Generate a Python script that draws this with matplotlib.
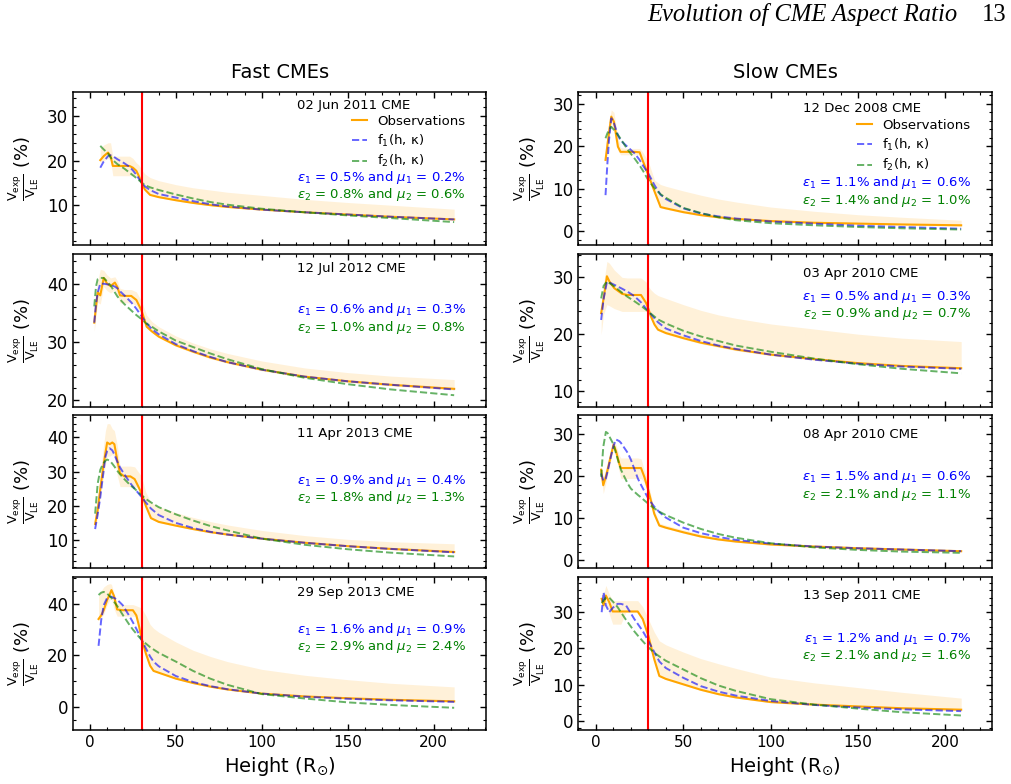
import matplotlib
matplotlib.use('Agg')
import matplotlib.pyplot as plt
from matplotlib.ticker import AutoMinorLocator, MultipleLocator

# ---- data (height in R_sun, ratio in %) ----
# Fast CMEs
h_jun11 = [6, 8, 10.5, 12, 13.3, 16, 20, 23, 25, 27, 28.5, 30, 32, 35, 40, 50, 60, 70, 80, 100, 125, 150, 175, 212]
obs_jun11 = [20.1, 21.0, 21.8, 21.0, 18.8, 18.8, 18.8, 18.8, 18.4, 17.7, 16.5, 15.0, 13.5, 12.3, 11.8, 11.1, 10.5, 10.0, 9.6, 9.0, 8.4, 7.9, 7.4, 6.8]
lo_jun11 = [19.5, 20.0, 20.5, 20.0, 16.6, 16.6, 16.6, 16.6, 16.6, 16.6, 16.2, 14.8, 13.3, 12.2, 11.7, 11.0, 10.4, 9.9, 9.5, 8.9, 8.3, 7.8, 7.3, 6.7]
hi_jun11 = [22.8, 23.5, 24.0, 24.0, 21.0, 21.0, 21.0, 21.0, 20.5, 19.5, 19.0, 18.0, 17.0, 16.2, 15.5, 14.6, 13.9, 13.4, 12.9, 12.2, 11.3, 10.6, 10.0, 9.1]
f1_jun11 = [18.4, 19.8, 21.0, 21.2, 21.0, 20.3, 19.4, 18.6, 17.8, 16.8, 15.9, 15.2, 14.2, 13.4, 12.5, 11.7, 10.9, 10.2, 9.7, 9.0, 8.4, 7.9, 7.4, 6.8]
f2_jun11 = [23.3, 22.5, 21.6, 20.7, 20.1, 19.2, 18.2, 17.3, 16.7, 16.1, 15.6, 15.1, 14.5, 14.0, 13.4, 12.4, 11.5, 10.7, 10.1, 9.2, 8.4, 7.7, 7.1, 6.2]

h_jul12 = [2.5, 3.5, 4.5, 6, 8, 10, 12, 14.5, 16, 17.5, 20, 24, 27, 30, 33, 36, 40, 50, 60, 70, 80, 100, 125, 150, 175, 212]
obs_jul12 = [33.3, 36.0, 38.5, 38.0, 41.0, 40.0, 39.6, 40.2, 39.4, 38.0, 37.9, 37.9, 37.2, 35.4, 32.6, 31.8, 30.9, 29.4, 28.3, 27.3, 26.5, 25.2, 24.0, 23.2, 22.6, 21.9]
lo_jul12 = [31.8, 34.5, 36.8, 36.5, 39.5, 38.8, 38.4, 39.0, 38.0, 36.7, 36.7, 36.7, 36.2, 34.6, 32.4, 31.6, 30.7, 29.2, 28.1, 27.1, 26.3, 25.0, 23.8, 23.0, 22.4, 21.7]
hi_jul12 = [34.5, 38.0, 40.5, 42.5, 42.3, 41.5, 41.0, 41.2, 40.5, 39.2, 39.0, 39.0, 38.6, 37.0, 34.6, 33.5, 32.6, 31.0, 29.8, 28.8, 28.0, 26.7, 25.5, 24.7, 24.1, 23.5]
f1_jul12 = [33.3, 36.5, 38.5, 40.0, 40.0, 39.9, 39.8, 39.5, 39.2, 38.7, 38.0, 36.8, 35.7, 34.4, 33.2, 32.2, 31.3, 29.6, 28.4, 27.4, 26.5, 25.2, 24.0, 23.2, 22.6, 21.8]
f2_jul12 = [36.1, 39.5, 40.8, 41.0, 41.0, 40.4, 39.7, 38.5, 37.8, 37.3, 36.5, 35.4, 34.6, 33.9, 33.1, 32.6, 31.8, 30.2, 29.1, 28.0, 27.0, 25.3, 23.8, 22.7, 21.8, 20.8]

h_apr13 = [3, 4.5, 6, 7.5, 9, 10, 11.5, 13, 14.2, 15.8, 17.5, 20, 23.5, 26, 28, 30, 32.5, 35.5, 40, 50, 60, 70, 80, 100, 125, 150, 175, 212]
obs_apr13 = [14.7, 18.8, 25.0, 30.5, 35.5, 38.5, 38.0, 38.5, 38.0, 33.5, 29.5, 28.6, 28.6, 27.8, 25.8, 23.6, 20.0, 16.4, 15.3, 14.2, 13.2, 12.3, 11.6, 10.4, 9.2, 8.2, 7.4, 6.5]
lo_apr13 = [13.5, 17.0, 22.5, 27.5, 32.0, 34.5, 34.5, 35.0, 34.5, 29.0, 25.6, 25.6, 25.6, 25.6, 25.4, 23.2, 19.8, 16.2, 15.1, 14.0, 13.0, 12.1, 11.4, 10.2, 9.0, 8.0, 7.2, 6.3]
hi_apr13 = [15.5, 21.0, 29.0, 36.0, 42.0, 44.0, 44.0, 42.5, 42.0, 38.0, 31.6, 31.6, 31.6, 31.4, 30.0, 28.6, 24.0, 21.0, 19.8, 18.0, 16.6, 15.4, 14.4, 12.8, 11.3, 10.2, 9.5, 8.9]
f1_apr13 = [13.2, 17.5, 22.5, 28.5, 34.3, 36.0, 36.8, 36.2, 35.0, 33.0, 31.2, 29.2, 26.6, 25.0, 23.8, 22.6, 21.0, 19.2, 17.3, 15.0, 13.5, 12.4, 11.6, 10.4, 9.2, 8.2, 7.4, 6.4]
f2_apr13 = [17.7, 26.5, 30.5, 32.2, 33.2, 33.5, 33.2, 32.3, 31.5, 30.3, 29.2, 27.8, 26.0, 25.0, 24.0, 23.1, 22.0, 21.0, 19.6, 17.5, 15.7, 14.1, 12.8, 10.4, 8.6, 7.3, 6.3, 5.2]

h_sep13 = [5, 6.5, 8, 10, 11.5, 12.5, 14, 15.8, 19, 23, 25, 27, 28.5, 30, 32.5, 35, 37, 40, 50, 60, 70, 80, 100, 125, 150, 175, 212]
obs_sep13 = [34.1, 35.5, 37.5, 41.5, 43.6, 45.3, 43.0, 37.8, 37.5, 37.5, 37.5, 35.5, 31.5, 26.7, 20.8, 16.0, 14.0, 13.3, 11.0, 9.3, 7.9, 6.8, 5.2, 4.1, 3.4, 2.8, 2.2]
lo_sep13 = [33.5, 34.5, 36.0, 39.5, 41.5, 42.0, 38.0, 35.2, 35.2, 35.2, 35.2, 35.0, 31.3, 26.5, 20.6, 15.8, 13.8, 13.1, 10.8, 9.1, 7.7, 6.6, 5.0, 3.9, 3.2, 2.6, 2.0]
hi_sep13 = [43.0, 45.0, 46.5, 47.5, 47.8, 47.6, 44.0, 40.4, 39.7, 39.7, 39.7, 39.2, 38.8, 38.4, 35.5, 32.0, 30.5, 29.0, 25.2, 22.0, 19.6, 17.6, 14.6, 12.3, 10.6, 9.2, 7.8]
f1_sep13 = [23.7, 33.5, 39.5, 42.3, 42.7, 42.7, 42.3, 41.6, 39.5, 35.2, 32.8, 30.3, 28.2, 26.1, 22.8, 19.6, 17.6, 15.8, 12.0, 9.7, 8.1, 6.9, 5.2, 4.0, 3.2, 2.6, 2.0]
f2_sep13 = [43.4, 44.3, 44.6, 43.9, 43.0, 42.3, 40.8, 39.2, 35.8, 31.8, 30.0, 28.4, 27.2, 26.1, 24.6, 23.2, 22.3, 21.0, 17.6, 14.0, 11.0, 8.6, 5.0, 3.3, 1.8, 0.8, -0.3]

# Slow CMEs
h_dec08 = [5.5, 6.5, 7.5, 8.8, 10.3, 12.6, 14.1, 18, 22, 25, 27, 30, 33.6, 37, 40, 50, 60, 70, 80, 100, 125, 150, 175, 209]
obs_dec08 = [16.8, 20.0, 23.2, 27.0, 25.8, 19.9, 18.7, 18.7, 18.7, 18.6, 16.4, 13.2, 9.3, 5.7, 5.4, 4.5, 3.8, 3.3, 2.9, 2.4, 2.0, 1.8, 1.6, 1.4]
lo_dec08 = [16.0, 19.0, 22.0, 25.5, 24.5, 19.0, 18.0, 18.0, 18.0, 18.0, 15.8, 12.8, 9.0, 5.5, 5.2, 4.3, 3.6, 3.1, 2.7, 2.2, 1.8, 1.6, 1.4, 1.2]
hi_dec08 = [20.0, 23.0, 26.0, 28.6, 28.0, 22.0, 19.7, 19.5, 19.5, 19.5, 18.5, 16.4, 12.0, 11.0, 10.6, 9.5, 8.5, 7.6, 6.9, 5.7, 4.7, 3.9, 3.3, 2.6]
f1_dec08 = [8.5, 15.5, 21.5, 26.6, 25.5, 22.6, 21.4, 19.9, 18.4, 16.8, 15.4, 13.6, 10.8, 8.6, 7.6, 5.4, 4.2, 3.5, 3.0, 2.3, 1.8, 1.3, 1.0, 0.6]
f2_dec08 = [21.9, 23.0, 23.9, 24.6, 23.9, 22.7, 21.8, 19.3, 17.2, 15.5, 14.2, 12.0, 10.1, 8.7, 7.9, 5.5, 4.3, 3.3, 2.6, 1.9, 1.4, 1.0, 0.7, 0.4]

h_apr03 = [3, 4.4, 6.3, 7.7, 10.5, 15, 18, 22, 25.8, 28.7, 30, 31.5, 33.5, 35.5, 40, 50, 60, 70, 80, 100, 125, 150, 175, 209]
obs_apr03 = [23.7, 26.3, 30.2, 29.3, 28.1, 27.1, 26.9, 26.9, 26.9, 25.5, 24.5, 23.1, 21.7, 20.8, 20.2, 19.3, 18.5, 17.9, 17.3, 16.4, 15.6, 14.9, 14.4, 14.0]
lo_apr03 = [19.9, 23.5, 25.2, 25.0, 24.5, 24.0, 24.0, 24.0, 24.0, 24.0, 24.0, 23.0, 21.5, 20.6, 20.0, 19.1, 18.3, 17.7, 17.1, 16.2, 15.4, 14.7, 14.2, 13.8]
hi_apr03 = [24.5, 29.0, 32.8, 32.5, 31.3, 30.0, 29.9, 29.9, 29.9, 29.2, 28.4, 27.8, 27.2, 26.8, 26.3, 25.2, 24.2, 23.4, 22.8, 21.8, 20.9, 20.0, 19.3, 18.7]
f1_apr03 = [22.5, 26.2, 29.2, 29.1, 28.7, 28.0, 27.5, 26.7, 25.6, 24.5, 24.1, 23.5, 22.8, 22.1, 21.0, 19.8, 18.8, 18.0, 17.4, 16.4, 15.5, 14.8, 14.3, 13.9]
f2_apr03 = [26.3, 28.5, 29.3, 29.0, 28.4, 27.3, 26.6, 25.8, 25.0, 24.3, 24.0, 23.6, 23.1, 22.6, 21.9, 20.6, 19.6, 18.8, 18.0, 16.9, 15.7, 14.7, 13.9, 13.1]

h_apr08 = [3, 4.2, 5.7, 6.7, 8.6, 10.1, 11.5, 13.4, 14.3, 18.2, 20, 24, 25.8, 27.7, 30, 33.4, 36.3, 40, 50, 60, 70, 80, 100, 125, 150, 175, 209]
obs_apr08 = [21.6, 17.9, 20.0, 21.6, 25.0, 27.6, 26.0, 23.0, 22.0, 22.0, 22.0, 22.0, 22.0, 19.9, 16.7, 11.1, 8.3, 7.8, 6.7, 5.7, 5.0, 4.5, 3.8, 3.3, 2.9, 2.6, 2.2]
lo_apr08 = [20.5, 15.9, 18.5, 20.5, 24.0, 26.5, 24.5, 21.0, 19.5, 19.5, 19.5, 19.5, 19.5, 18.5, 15.5, 10.5, 8.0, 7.6, 6.5, 5.5, 4.8, 4.3, 3.6, 3.1, 2.7, 2.4, 2.0]
hi_apr08 = [22.5, 19.5, 22.0, 23.5, 26.5, 28.4, 27.5, 25.0, 24.4, 24.4, 24.4, 24.4, 24.2, 21.5, 18.3, 12.0, 8.9, 8.4, 7.3, 6.3, 5.5, 5.0, 4.3, 3.7, 3.3, 2.9, 2.5]
f1_apr08 = [20.7, 19.0, 19.5, 21.2, 24.8, 27.3, 28.8, 28.4, 28.0, 25.6, 24.0, 19.5, 18.0, 16.5, 14.7, 12.8, 11.5, 10.2, 7.8, 6.5, 5.6, 4.9, 4.0, 3.3, 2.9, 2.6, 2.2]
f2_apr08 = [19.9, 27.0, 30.6, 30.3, 28.8, 27.6, 25.5, 22.8, 21.6, 18.3, 17.1, 15.6, 15.0, 14.3, 13.5, 12.4, 11.6, 10.8, 9.0, 7.5, 6.3, 5.4, 4.1, 3.1, 2.5, 2.1, 1.8]

h_sep11 = [3.3, 4.4, 5.7, 7.6, 9.6, 12.4, 14.3, 17.2, 22, 23.9, 26.8, 30, 33.4, 36.3, 40, 50, 60, 70, 80, 100, 125, 150, 175, 209]
obs_sep11 = [33.7, 31.9, 34.6, 32.8, 30.2, 30.2, 30.2, 30.2, 30.2, 30.2, 28.1, 23.5, 17.0, 12.4, 11.6, 10.1, 8.6, 7.4, 6.5, 5.2, 4.5, 4.0, 3.5, 3.1]
lo_sep11 = [31.4, 30.5, 32.5, 29.5, 26.7, 26.7, 26.7, 30.0, 30.0, 30.0, 27.8, 23.2, 16.8, 12.2, 11.4, 9.9, 8.4, 7.2, 6.3, 5.0, 4.3, 3.8, 3.3, 2.9]
hi_sep11 = [35.5, 35.0, 37.4, 35.0, 33.2, 33.2, 33.2, 33.2, 33.2, 33.2, 31.5, 28.1, 24.5, 22.1, 21.0, 19.0, 17.2, 15.8, 14.5, 12.1, 10.5, 9.2, 7.9, 6.3]
f1_sep11 = [30.0, 35.5, 31.9, 30.0, 31.2, 32.3, 32.3, 31.9, 28.1, 26.8, 24.8, 22.1, 19.0, 16.4, 14.6, 11.9, 9.6, 8.1, 7.0, 5.5, 4.4, 3.7, 3.2, 2.7]
f2_sep11 = [32.5, 33.2, 34.0, 34.0, 33.0, 31.4, 30.0, 27.9, 24.7, 23.6, 22.0, 20.3, 18.8, 17.8, 16.6, 14.2, 11.8, 9.8, 8.3, 6.0, 4.5, 3.4, 2.4, 1.5]

dates_fast = ['02 Jun 2011 CME', '12 Jul 2012 CME', '11 Apr 2013 CME', '29 Sep 2013 CME']
dates_slow = ['12 Dec 2008 CME', '03 Apr 2010 CME', '08 Apr 2010 CME', '13 Sep 2011 CME']
eps1_fast = [(0.5, 0.2), (0.6, 0.3), (0.9, 0.4), (1.6, 0.9)]
eps2_fast = [(0.8, 0.6), (1.0, 0.8), (1.8, 1.3), (2.9, 2.4)]
eps1_slow = [(1.1, 0.6), (0.5, 0.3), (1.5, 0.6), (1.2, 0.7)]
eps2_slow = [(1.4, 1.0), (0.9, 0.7), (2.1, 1.1), (2.1, 1.6)]

fast = [
    (h_jun11, obs_jun11, lo_jun11, hi_jun11, f1_jun11, f2_jun11),
    (h_jul12, obs_jul12, lo_jul12, hi_jul12, f1_jul12, f2_jul12),
    (h_apr13, obs_apr13, lo_apr13, hi_apr13, f1_apr13, f2_apr13),
    (h_sep13, obs_sep13, lo_sep13, hi_sep13, f1_sep13, f2_sep13),
]
slow = [
    (h_dec08, obs_dec08, lo_dec08, hi_dec08, f1_dec08, f2_dec08),
    (h_apr03, obs_apr03, lo_apr03, hi_apr03, f1_apr03, f2_apr03),
    (h_apr08, obs_apr08, lo_apr08, hi_apr08, f1_apr08, f2_apr08),
    (h_sep11, obs_sep11, lo_sep11, hi_sep11, f1_sep11, f2_sep11),
]

# layout bits (axes fractions / limits per panel)
xlim_fast = (-9.9, 230.8)
xlim_slow = (-10.1, 226.5)
ylims_fast = [(1.0, 35.4), (18.8, 45.2), (1.7, 46.5), (-8.9, 50.5)]
ylims_slow = [(-3.3, 32.8), (7.2, 34.2), (-1.9, 34.6), (-2.5, 39.8)]
ymaj_fast = [10, 10, 10, 20]
ymaj_slow = [10, 10, 10, 10]
date_y_fast = [0.91, 0.90, 0.88, 0.90]
date_y_slow = [0.89, 0.87, 0.875, 0.88]
eps_y_fast = [(0.44, 0.33), (0.635, 0.52), (0.575, 0.465), (0.655, 0.545)]
eps_y_slow = [(0.41, 0.29), (0.72, 0.61), (0.60, 0.485), (0.60, 0.485)]

plt.rcParams['mathtext.fontset'] = 'dejavusans'

fig, axes = plt.subplots(4, 2, figsize=(10.12, 7.84), dpi=100)
fig.subplots_adjust(left=0.0721, right=0.980, top=0.8827, bottom=0.0689,
                    wspace=0.222, hspace=0.054)


def draw_panel(ax, data, xlim, ylim, ymaj, date, date_y, e1, e2, eps_y, last, legend, leg_y):
    h, obs, lo, hi, f1, f2 = data
    ax.fill_between(h, lo, hi, color='orange', alpha=0.15, linewidth=0)
    ax.plot(h, obs, color='orange', lw=1.5, label='Observations')
    ax.plot(h, f1, color='blue', alpha=0.6, ls='--', lw=1.4, label=r'$\mathrm{f_1(h,\,\kappa)}$')
    ax.plot(h, f2, color='green', alpha=0.6, ls='--', lw=1.4, label=r'$\mathrm{f_2(h,\,\kappa)}$')
    ax.axvline(30, color='red', lw=1.5)
    ax.set_xlim(*xlim)
    ax.set_ylim(*ylim)
    ax.xaxis.set_major_locator(MultipleLocator(50))
    ax.xaxis.set_minor_locator(AutoMinorLocator())
    ax.yaxis.set_major_locator(MultipleLocator(ymaj))
    ax.yaxis.set_minor_locator(AutoMinorLocator())
    ax.tick_params(which='both', direction='in', top=True, right=True)
    ax.tick_params(which='major', length=4.5, width=1)
    ax.tick_params(which='minor', length=2.5, width=0.8)
    ax.tick_params(axis='y', labelsize=12)
    ax.tick_params(axis='x', labelsize=11)
    for s in ax.spines.values():
        s.set_linewidth(1.1)
    ax.set_ylabel(r'$\frac{\mathrm{V_{exp}}}{\mathrm{V_{LE}}}$ (%)', fontsize=13)
    if last:
        ax.set_xlabel(r'Height ($\mathrm{R_{\odot}}$)', fontsize=14)
    else:
        ax.tick_params(labelbottom=False)
    ax.text(0.543, date_y, date, transform=ax.transAxes, fontsize=9.5, ha='left', va='center')
    ax.text(0.95, eps_y[0], r'$\varepsilon_1$ = %.1f%% and $\mu_1$ = %.1f%%' % e1,
            transform=ax.transAxes, fontsize=9.5, ha='right', va='center', color='blue')
    ax.text(0.95, eps_y[1], r'$\varepsilon_2$ = %.1f%% and $\mu_2$ = %.1f%%' % e2,
            transform=ax.transAxes, fontsize=9.5, ha='right', va='center', color='green')
    if legend:
        ax.legend(loc='upper left', bbox_to_anchor=(0.675, leg_y), frameon=False,
                  fontsize=9.5, handlelength=1.1, handletextpad=0.8,
                  borderpad=0, borderaxespad=0, labelspacing=0.35)


for i in range(4):
    draw_panel(axes[i, 0], fast[i], xlim_fast, ylims_fast[i], ymaj_fast[i], dates_fast[i], date_y_fast[i],
               eps1_fast[i], eps2_fast[i], eps_y_fast[i], i == 3, i == 0, 0.85)
    draw_panel(axes[i, 1], slow[i], xlim_slow, ylims_slow[i], ymaj_slow[i], dates_slow[i], date_y_slow[i],
               eps1_slow[i], eps2_slow[i], eps_y_slow[i], i == 3, i == 0, 0.825)

fig.text(280 / 1012, 1 - 73 / 784, 'Fast CMEs', ha='center', va='center', fontsize=14)
fig.text(785 / 1012, 1 - 73 / 784, 'Slow CMEs', ha='center', va='center', fontsize=14)
fig.text(958 / 1012, 1 - 15 / 784, 'Evolution of CME Aspect Ratio', ha='right', va='center',
         fontsize=17.7, family='Liberation Serif', style='italic')
fig.text(1006 / 1012, 1 - 15 / 784, '13', ha='right', va='center',
         fontsize=17.7, family='Liberation Serif')

fig.savefig('out.png', dpi=100)
